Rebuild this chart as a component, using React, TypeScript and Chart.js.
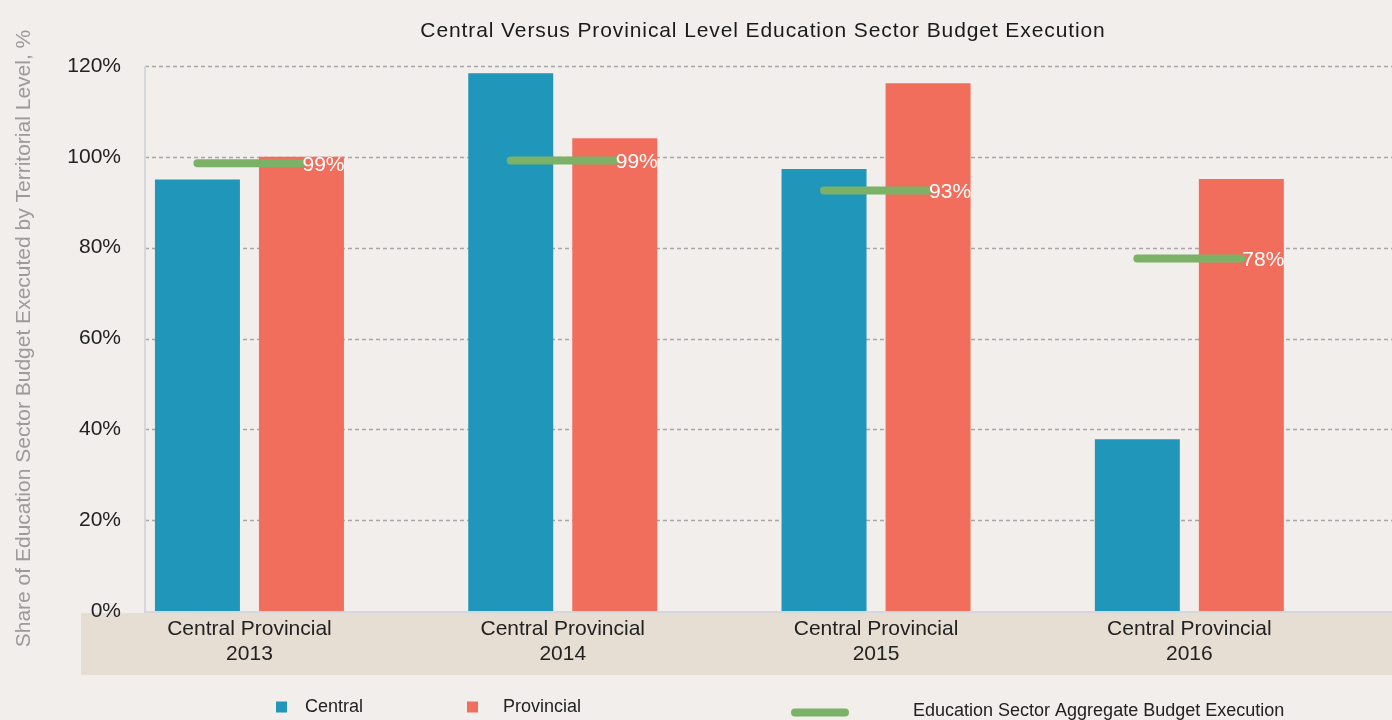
import React, { useEffect, useRef } from 'react';
import { Chart, registerables } from 'chart.js';

Chart.register(...registerables);

// ---------- data ----------
const years = ['2013', '2014', '2015', '2016'];
const groupLabel = 'Central Provincial';
const centralValues = [95.0, 118.4, 97.3, 37.8];
const provincialValues = [100.0, 104.1, 116.2, 95.1];
const aggregateValues = [98.6, 99.2, 92.6, 77.6];
const yTicks = [0, 20, 40, 60, 80, 100, 120];
const seriesNames = ['Central', 'Provincial', 'Education Sector Aggregate Budget Execution'];
const chartTitle = 'Central Versus Provinical Level Education Sector Budget Execution';
const yTitle = 'Share of Education Sector Budget Executed by Territorial Level, %';

// ---------- style ----------
const BLUE = '#2196BB';
const RED = '#F26E5C';
const GREEN = '#7BB267';
const BG = '#F1EEEB';
const BAND = '#E6DDD3';
const TEXT = '#222222';
const FONT = "'Liberation Sans', Arial, sans-serif";
const CAT_PCT = 0.664;
const BAR_PCT = 0.817;
const AXIS_X = 145;

const decorPlugin = {
  id: 'decor',
  beforeDraw(chart: any) {
    const { ctx, width } = chart;
    const y = chart.scales.y;
    ctx.save();
    ctx.fillStyle = BG;
    ctx.fillRect(0, 0, width, chart.height);
    ctx.fillStyle = BAND;
    ctx.fillRect(81, y.bottom + 2, width - 81, 62);
    // title
    ctx.fillStyle = '#1A1A1A';
    ctx.font = `21px ${FONT}`;
    (ctx as any).letterSpacing = '0.9px';
    ctx.textAlign = 'center';
    ctx.textBaseline = 'middle';
    ctx.fillText(chartTitle, 763, 31);
    (ctx as any).letterSpacing = '0px';
    // y tick labels
    ctx.fillStyle = TEXT;
    ctx.font = `21px ${FONT}`;
    ctx.textAlign = 'right';
    yTicks.forEach((t) => {
      ctx.fillText(`${t}%`, 121, y.getPixelForValue(t));
    });
    ctx.restore();
  },
  beforeDatasetsDraw(chart: any) {
    const { ctx, width } = chart;
    const y = chart.scales.y;
    ctx.save();
    ctx.strokeStyle = '#A8A8A8';
    ctx.lineWidth = 1.5;
    ctx.setLineDash([4, 3]);
    yTicks.forEach((t) => {
      if (t === 0) return;
      const py = Math.round(y.getPixelForValue(t)) + 0.5;
      ctx.beginPath();
      ctx.moveTo(AXIS_X, py);
      ctx.lineTo(width, py);
      ctx.stroke();
    });
    ctx.setLineDash([]);
    ctx.strokeStyle = '#D6D6DE';
    ctx.lineWidth = 2;
    ctx.beginPath();
    ctx.moveTo(AXIS_X, y.getPixelForValue(yTicks[yTicks.length - 1]));
    ctx.lineTo(AXIS_X, y.getPixelForValue(0) + 1);
    ctx.lineTo(width, y.getPixelForValue(0) + 1);
    ctx.stroke();
    ctx.restore();
  },
  afterDatasetsDraw(chart: any) {
    const { ctx } = chart;
    const y = chart.scales.y;
    const central = chart.getDatasetMeta(0).data;
    const provincial = chart.getDatasetMeta(1).data;
    ctx.save();
    // aggregate execution segments: from centre of Central bar to centre of Provincial bar
    ctx.strokeStyle = GREEN;
    ctx.lineWidth = 8;
    ctx.lineCap = 'round';
    aggregateValues.forEach((v, i) => {
      const a = central[i];
      const b = provincial[i];
      if (!a || !b) return;
      const py = y.getPixelForValue(v);
      ctx.beginPath();
      ctx.moveTo(a.x, py);
      ctx.lineTo(b.x, py);
      ctx.stroke();
    });
    // labels
    ctx.fillStyle = '#FFFFFF';
    ctx.font = `21px ${FONT}`;
    ctx.textAlign = 'left';
    ctx.textBaseline = 'middle';
    aggregateValues.forEach((v, i) => {
      const b = provincial[i];
      if (!b) return;
      ctx.fillText(`${Math.round(v)}%`, b.x + 1, y.getPixelForValue(v) + 2);
    });
    ctx.restore();
  },
  afterDraw(chart: any) {
    const { ctx } = chart;
    ctx.save();
    ctx.font = `18px ${FONT}`;
    ctx.textAlign = 'left';
    ctx.textBaseline = 'middle';
    // Central
    ctx.fillStyle = BLUE;
    ctx.fillRect(276, 701.5, 11, 11);
    ctx.fillStyle = TEXT;
    ctx.fillText(seriesNames[0], 305, 707);
    // Provincial
    ctx.fillStyle = RED;
    ctx.fillRect(467, 701.5, 11, 11);
    ctx.fillStyle = TEXT;
    ctx.fillText(seriesNames[1], 503, 707);
    // Aggregate
    ctx.strokeStyle = GREEN;
    ctx.lineWidth = 8;
    ctx.lineCap = 'round';
    ctx.beginPath();
    ctx.moveTo(795, 712.5);
    ctx.lineTo(845, 712.5);
    ctx.stroke();
    ctx.fillStyle = TEXT;
    ctx.fillText(seriesNames[2], 913, 711);
    ctx.restore();
  },
};

export default function App() {
  const ref = useRef<HTMLCanvasElement>(null);

  useEffect(() => {
    if (!ref.current) return;
    const chart = new Chart(ref.current, {
      type: 'bar',
      data: {
        labels: years.map((y) => [groupLabel, y]),
        datasets: [
          {
            label: seriesNames[0],
            data: centralValues,
            backgroundColor: BLUE,
            borderWidth: 0,
            categoryPercentage: CAT_PCT,
            barPercentage: BAR_PCT,
          },
          {
            label: seriesNames[1],
            data: provincialValues,
            backgroundColor: RED,
            borderWidth: 0,
            categoryPercentage: CAT_PCT,
            barPercentage: BAR_PCT,
          },
        ],
      },
      options: {
        responsive: false,
        animation: false,
        events: [],
        layout: { padding: { left: 0, right: 46, top: 66, bottom: 0 } },
        plugins: {
          legend: { display: false },
          title: { display: false },
          tooltip: { enabled: false },
        },
        scales: {
          x: {
            type: 'category',
            offset: true,
            grid: { display: false, drawTicks: false },
            border: { display: false },
            ticks: {
              color: TEXT,
              font: { family: FONT, size: 21, lineHeight: 25 / 21 },
              padding: 6,
              maxRotation: 0,
              autoSkip: false,
            },
            afterFit: (s: any) => {
              s.height = 109;
            },
          },
          y: {
            min: yTicks[0],
            max: yTicks[yTicks.length - 1],
            grid: { display: false, drawTicks: false },
            border: { display: false },
            afterBuildTicks: (s: any) => {
              s.ticks = yTicks.map((v) => ({ value: v }));
            },
            ticks: { display: false },
            title: {
              display: true,
              text: yTitle,
              color: '#9B9B9B',
              font: { family: FONT, size: 21 },
              padding: { top: 12, bottom: 0 },
            },
            afterFit: (s: any) => {
              s.width = 92.8;
            },
          },
        },
      } as any,
      plugins: [decorPlugin],
    });
    return () => chart.destroy();
  }, []);

  return (
    <div style={{ position: 'fixed', left: 0, top: 0, width: 1392, height: 720 }}>
      <canvas ref={ref} width={1392} height={720} style={{ display: 'block' }} />
    </div>
  );
}
